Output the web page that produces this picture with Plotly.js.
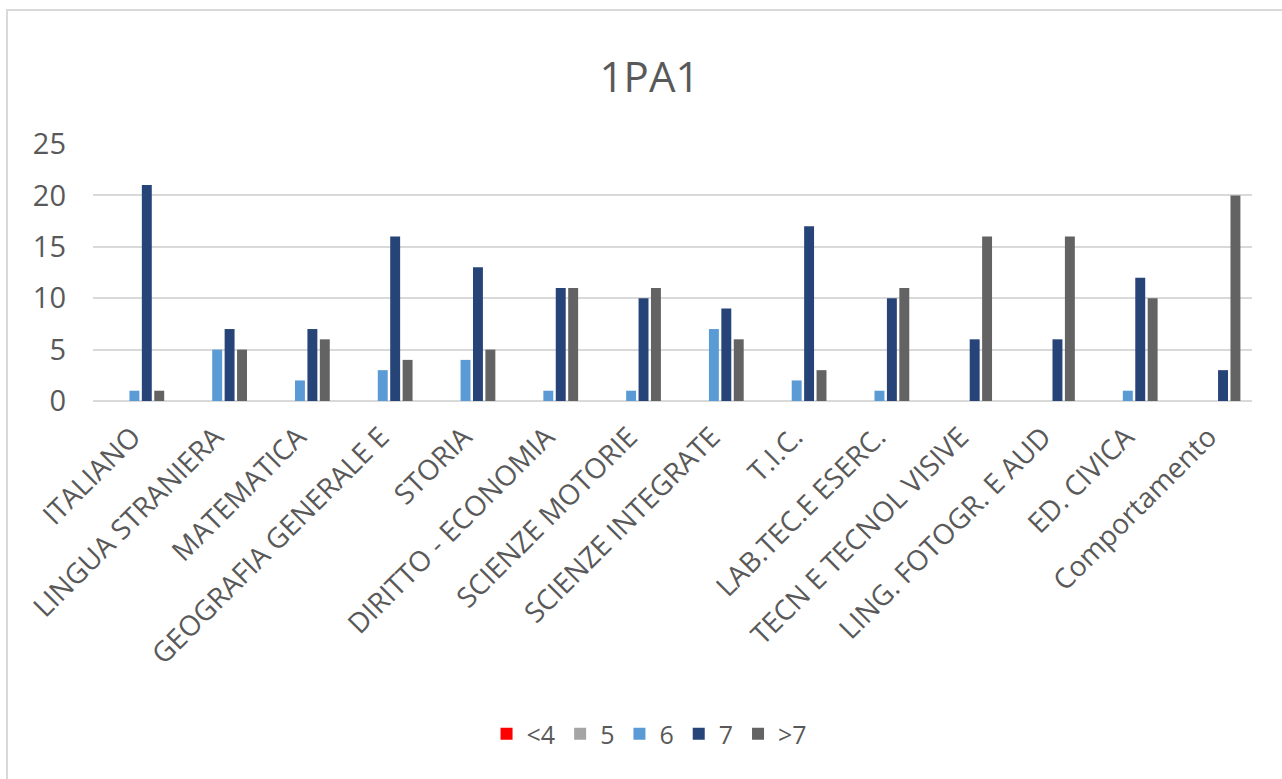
<!DOCTYPE html>
<html>
<head>
<meta charset="utf-8">
<script src="https://cdn.plot.ly/plotly-3.0.1.min.js"></script>
<style>
  html, body { margin: 0; padding: 0; background: #fff; width: 1282px; height: 779px; overflow: hidden; }
  #frame { position: absolute; left: 6px; top: 9px; width: 1276px; height: 770px;
           border-left: 2px solid #d9d9d9; border-top: 2px solid #d9d9d9; box-sizing: border-box; }
  #chart { position: absolute; left: 2px; top: 2px; }
</style>
</head>
<body>
<div id="frame"><div id="chart"></div></div>
<script>
const categories = ["ITALIANO", "LINGUA STRANIERA", "MATEMATICA", "GEOGRAFIA GENERALE E", "STORIA",
  "DIRITTO - ECONOMIA", "SCIENZE MOTORIE", "SCIENZE INTEGRATE", "T.I.C.", "LAB.TEC.E ESERC.",
  "TECN E TECNOL VISIVE", "LING. FOTOGR. E AUD", "ED. CIVICA", "Comportamento"];
const seriesNames = ["<4", "5", "6", "7", ">7"];
const valsLt4 = [0, 0, 0, 0, 0, 0, 0, 0, 0, 0, 0, 0, 0, 0];
const vals5   = [0, 0, 0, 0, 0, 0, 0, 0, 0, 0, 0, 0, 0, 0];
const vals6   = [1, 5, 2, 3, 4, 1, 1, 7, 2, 1, 0, 0, 1, 0];
const vals7   = [21, 7, 7, 16, 13, 11, 10, 9, 17, 10, 6, 6, 12, 3];
const valsGt7 = [1, 5, 6, 4, 5, 11, 11, 6, 3, 11, 16, 16, 10, 20];
const colors = ["#FF0000", "#A5A5A5", "#5B9BD5", "#264478", "#636363"];
const yTicks = [0, 5, 10, 15, 20, 25];

const allVals = [valsLt4, vals5, vals6, vals7, valsGt7];
const traces = allVals.map((v, i) => ({
  type: "bar",
  name: seriesNames[i],
  x: categories,
  y: v,
  marker: { color: colors[i], line: { width: 0 } },
  hoverinfo: "x+y+name"
}));

const W = 1274, H = 768;
const font = "Open Sans, Noto Sans, sans-serif";
const layout = {
  width: W, height: H,
  paper_bgcolor: "#ffffff", plot_bgcolor: "#ffffff",
  margin: { l: 83, r: 32, t: 131, b: 380 },
  title: { text: "1PA1", xref: "container", x: 0.502, xanchor: "center",
           yref: "container", y: 1 - 64 / H, yanchor: "middle",
           font: { family: font, size: 42, color: "#595959" } },
  barmode: "group", bargap: 0.25, bargroupgap: 0.2,
  showlegend: true,
  legend: { orientation: "h", x: 0.502, xref: "container", xanchor: "center",
            y: 1 - 721 / H, yref: "container", yanchor: "middle",
            font: { family: font, size: 25, color: "#595959" }, itemwidth: 30, traceorder: "normal" },
  xaxis: { type: "category", tickangle: -45, showgrid: false, zeroline: false, automargin: false,
           showline: false, ticks: "", ticklabelstandoff: 13, ticklabelshift: -2,
           tickfont: { family: font, size: 28, color: "#595959" } },
  yaxis: { range: [0, 25], tickvals: yTicks, ticktext: yTicks.map(String), automargin: false,
           showgrid: true, gridcolor: "#d9d9d9", gridwidth: 2, zeroline: true,
           zerolinecolor: "#d9d9d9", zerolinewidth: 2, showline: false, ticks: "",
           ticklabelstandoff: 26,
           tickfont: { family: font, size: 29, color: "#595959" } },
  font: { family: font, color: "#595959" }
};

Plotly.newPlot("chart", traces, layout, { displayModeBar: false, staticPlot: true });
</script>
</body>
</html>
